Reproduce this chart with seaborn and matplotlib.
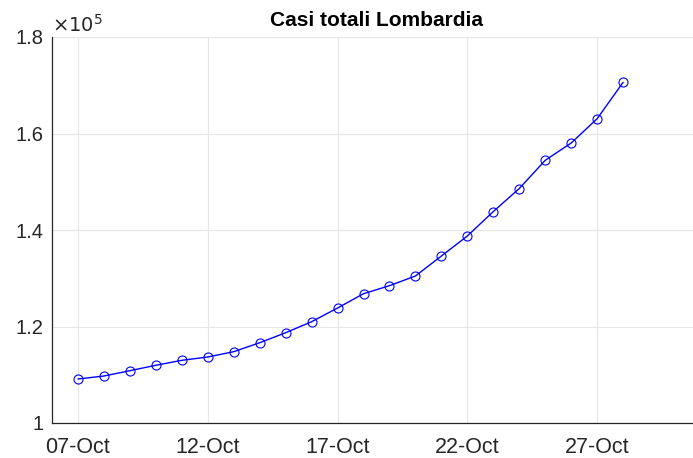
import matplotlib
matplotlib.use("Agg")
import matplotlib.pyplot as plt
import matplotlib.dates as mdates
from matplotlib.ticker import FuncFormatter
import seaborn as sns
import pandas as pd

dates = ["2020-10-07", "2020-10-08", "2020-10-09", "2020-10-10", "2020-10-11",
         "2020-10-12", "2020-10-13", "2020-10-14", "2020-10-15", "2020-10-16",
         "2020-10-17", "2020-10-18", "2020-10-19", "2020-10-20", "2020-10-21",
         "2020-10-22", "2020-10-23", "2020-10-24", "2020-10-25", "2020-10-26",
         "2020-10-27", "2020-10-28"]
cases = [109120, 109740, 110840, 111960, 112990, 113680, 114780, 116640,
         118710, 120990, 123830, 126800, 128460, 130470, 134610, 138760,
         143830, 148600, 154450, 158030, 163070, 170610]
tick_dates = ["2020-10-07", "2020-10-12", "2020-10-17", "2020-10-22", "2020-10-27"]
ytick_vals = [100000, 120000, 140000, 160000, 180000]
title = "Casi totali Lombardia"

sns.set_style("white")
plt.rcParams['font.family'] = ['Liberation Sans', 'DejaVu Sans']

df = pd.DataFrame({"date": pd.to_datetime(dates), "cases": cases})

W, H = 693, 458
fig = plt.figure(figsize=(W / 100, H / 100), dpi=100)
left, right, top, bottom = 52, 701, 37, 423
ax = fig.add_axes([left / W, (H - bottom) / H, (right - left) / W, (bottom - top) / H])

sns.lineplot(data=df, x="date", y="cases", ax=ax, color=(0, 0, 1), linewidth=1.0,
             marker="o", markersize=6.5, markerfacecolor="none",
             markeredgecolor=(0, 0, 1), markeredgewidth=0.8)

ax.set_xlim(pd.Timestamp("2020-10-06"), pd.Timestamp("2020-10-31"))
ax.set_ylim(100000, 180000)
ax.set_xticks(pd.to_datetime(tick_dates))
ax.xaxis.set_major_formatter(mdates.DateFormatter("%d-%b"))
ax.set_yticks(ytick_vals)
ax.yaxis.set_major_formatter(FuncFormatter(lambda v, p: f"{v/1e5:g}"))

ax.grid(True, color="#e6e6e6", linewidth=0.8)
ax.set_axisbelow(True)
for s in ["top", "right"]:
    ax.spines[s].set_visible(False)
for s in ["left", "bottom"]:
    ax.spines[s].set_color("#262626")
    ax.spines[s].set_linewidth(0.9)
ax.tick_params(direction="in", length=5, width=0.8, color="#262626",
               labelcolor="#262626")
ax.tick_params(axis="x", pad=10, labelsize=15.5)
ax.tick_params(axis="y", pad=6, labelsize=14.5)
ax.set_xlabel("")
ax.set_ylabel("")
ax.set_title(title, fontsize=15, fontweight="bold", pad=8, color="black")

fig.text(left / W, 1 - 25 / H, r"$\times10^{5}$", fontsize=14, color="#262626",
         ha="left", va="center", math_fontfamily="dejavusans")

fig.savefig("out.png", dpi=100)
